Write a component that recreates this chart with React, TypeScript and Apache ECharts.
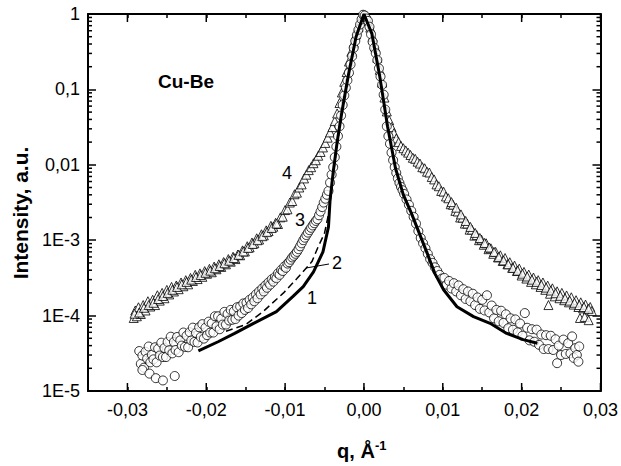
import React, { useEffect, useRef } from 'react';
import * as echarts from 'echarts';

// ---- axis ticks / labels ----
const xMajorTicks = [-0.03, -0.02, -0.01, 0, 0.01, 0.02, 0.03];
const yTickLabels = ['1E-5', '1E-4', '1E-3', '0,01', '0,1', '1'];
const yMinorMultipliers = [2, 3, 4, 5, 6, 7, 8, 9];
const yDecadeExponents = [-5, -4, -3, -2, -1];

// ---- series 4 : triangles ----
const trianglesLeft: [number, number][] = [
  [-0.0292, 9.3e-5], [-0.029, 1.17e-4], [-0.0288, 9.8e-5], [-0.0286, 1.29e-4], [-0.0283, 1.05e-4],
  [-0.028, 1.38e-4], [-0.0277, 1.17e-4], [-0.0274, 1.55e-4], [-0.0271, 1.32e-4], [-0.0268, 1.62e-4],
  [-0.0265, 1.38e-4], [-0.0262, 1.86e-4], [-0.0259, 1.58e-4], [-0.0256, 2.0e-4], [-0.0253, 1.7e-4],
  [-0.025, 2.19e-4], [-0.0247, 1.91e-4], [-0.0244, 2.4e-4], [-0.0241, 2.09e-4], [-0.0238, 2.51e-4],
  [-0.0235, 2.24e-4], [-0.0232, 2.75e-4], [-0.0229, 2.45e-4], [-0.0226, 2.95e-4], [-0.0223, 2.6e-4],
  [-0.022, 3.16e-4], [-0.0217, 2.88e-4], [-0.0214, 3.47e-4], [-0.0211, 3.05e-4], [-0.0208, 3.63e-4],
  [-0.0205, 3.27e-4], [-0.0202, 3.89e-4], [-0.0199, 3.59e-4], [-0.0196, 4.17e-4], [-0.0193, 3.76e-4],
  [-0.019, 4.47e-4], [-0.0187, 4.12e-4], [-0.0184, 4.79e-4], [-0.0181, 4.42e-4], [-0.0178, 5.13e-4],
  [-0.0175, 4.79e-4], [-0.0172, 5.62e-4], [-0.0169, 5.19e-4], [-0.0166, 6.03e-4], [-0.0163, 5.62e-4],
  [-0.016, 6.46e-4], [-0.0157, 6.31e-4], [-0.0154, 7.33e-4], [-0.0151, 7.08e-4], [-0.0148, 8.32e-4],
  [-0.0145, 8.04e-4], [-0.0142, 9.33e-4], [-0.0139, 9.12e-4], [-0.0136, 1.06e-3], [-0.0133, 1.02e-3],
  [-0.013, 1.2e-3], [-0.0127, 1.16e-3], [-0.0124, 1.35e-3], [-0.0121, 1.32e-3], [-0.0118, 1.55e-3],
  [-0.0115, 1.51e-3], [-0.0112, 1.7e-3], [-0.0109, 1.64e-3], [-0.0106, 2.01e-3], [-0.0103, 2.05e-3],
  [-0.01, 2.51e-3], [-0.0097, 2.57e-3], [-0.0094, 3.16e-3], [-0.0091, 3.31e-3], [-0.0088, 4.07e-3],
  [-0.0085, 4.27e-3], [-0.0082, 5.0e-3], [-0.0079, 5.5e-3], [-0.0076, 6.6e-3], [-0.0073, 7.4e-3],
  [-0.007, 8.5e-3], [-0.0067, 9.3e-3], [-0.0064, 1.05e-2], [-0.0061, 1.15e-2], [-0.0058, 1.32e-2],
  [-0.0055, 1.48e-2], [-0.0052, 1.7e-2],
];
const trianglesLeftExtra: [number, number][] = [
  [-0.0291, 1.06e-4], [-0.0285, 1.1e-4], [-0.0279, 1.27e-4], [-0.0273, 1.38e-4], [-0.0267, 1.48e-4],
  [-0.0261, 1.66e-4], [-0.0255, 1.82e-4], [-0.0249, 2.0e-4], [-0.0243, 2.2e-4], [-0.0237, 2.4e-4],
  [-0.0231, 2.6e-4], [-0.0225, 2.8e-4], [-0.0219, 3.0e-4], [-0.0213, 3.25e-4], [-0.0207, 3.45e-4],
  [-0.0201, 3.7e-4], [-0.0195, 3.95e-4], [-0.0189, 4.25e-4], [-0.0183, 4.55e-4], [-0.0177, 4.95e-4],
  [-0.0171, 5.35e-4], [-0.0165, 5.8e-4], [-0.0159, 6.4e-4], [-0.0153, 7.1e-4], [-0.0147, 7.9e-4],
  [-0.0141, 8.9e-4], [-0.0135, 1.0e-3], [-0.0129, 1.13e-3], [-0.0123, 1.28e-3], [-0.0117, 1.45e-3],
  [-0.0111, 1.66e-3],
];
const trianglesCenter: [number, number][] = [
  [-0.0049, 1.95e-2], [-0.0046, 2.29e-2], [-0.0043, 2.69e-2], [-0.004, 3.16e-2], [-0.0037, 3.8e-2],
  [-0.0034, 4.8e-2], [-0.0031, 6.6e-2], [-0.0028, 9.1e-2], [-0.0025, 0.126], [-0.0022, 0.17],
  [-0.0019, 0.234], [-0.0016, 0.316], [-0.0013, 0.417], [-0.001, 0.537], [-0.0007, 0.676],
  [-0.0004, 0.83], [-0.0001, 0.977], [0.0002, 0.933], [0.0005, 0.81], [0.0008, 0.66],
  [0.0011, 0.5], [0.0014, 0.37], [0.0017, 0.263], [0.002, 0.182], [0.0023, 0.123],
  [0.0026, 7.8e-2], [0.0029, 5.1e-2], [0.0032, 3.9e-2], [0.0035, 3.16e-2], [0.0038, 2.63e-2],
  [0.0041, 2.24e-2], [0.0044, 2.0e-2], [0.0047, 1.78e-2], [0.005, 1.66e-2],
];
const trianglesRight: [number, number][] = [
  [0.0053, 1.55e-2], [0.0056, 1.45e-2], [0.0059, 1.35e-2], [0.0062, 1.24e-2], [0.0065, 1.2e-2],
  [0.0068, 1.1e-2], [0.0071, 1.04e-2], [0.0074, 9.3e-3], [0.0077, 9.0e-3], [0.008, 8.1e-3],
  [0.0083, 7.9e-3], [0.0086, 6.9e-3], [0.0089, 6.4e-3], [0.0092, 5.5e-3], [0.0095, 5.2e-3],
  [0.0098, 4.5e-3], [0.0101, 4.4e-3], [0.0104, 3.8e-3], [0.0107, 3.6e-3], [0.011, 3.0e-3],
  [0.0113, 2.95e-3], [0.0116, 2.45e-3], [0.0119, 2.4e-3], [0.0122, 2.0e-3], [0.0125, 1.99e-3],
  [0.0128, 1.66e-3], [0.0131, 1.66e-3], [0.0134, 1.38e-3], [0.0137, 1.38e-3], [0.014, 1.15e-3],
  [0.0143, 1.17e-3], [0.0146, 1.0e-3], [0.0149, 1.02e-3], [0.0152, 8.7e-4], [0.0155, 9.1e-4],
  [0.0158, 7.6e-4], [0.0161, 7.8e-4], [0.0164, 6.6e-4], [0.0167, 7.0e-4], [0.017, 5.9e-4],
  [0.0173, 6.3e-4], [0.0176, 5.3e-4], [0.0179, 5.8e-4], [0.0182, 4.8e-4], [0.0185, 5.1e-4],
  [0.0188, 4.3e-4], [0.0191, 4.6e-4], [0.0194, 3.9e-4], [0.0197, 4.2e-4], [0.02, 3.4e-4],
  [0.0203, 3.8e-4], [0.0206, 3.1e-4], [0.0209, 3.5e-4], [0.0212, 2.8e-4], [0.0215, 3.2e-4],
  [0.0218, 2.6e-4], [0.0221, 2.95e-4], [0.0224, 2.4e-4], [0.0227, 2.75e-4], [0.023, 2.2e-4],
  [0.0233, 2.5e-4], [0.0236, 1.95e-4], [0.0239, 2.3e-4], [0.0242, 1.8e-4], [0.0245, 2.1e-4],
  [0.0248, 1.7e-4], [0.0251, 2.0e-4], [0.0254, 1.6e-4], [0.0257, 1.85e-4], [0.026, 1.5e-4],
  [0.0263, 1.75e-4], [0.0266, 1.4e-4], [0.0269, 1.6e-4], [0.0272, 1.3e-4], [0.0275, 1.5e-4],
  [0.0278, 1.25e-4], [0.0281, 1.4e-4], [0.0284, 1.2e-4], [0.0287, 1.3e-4], [0.0289, 1.15e-4],
  [0.0234, 1.38e-4], [0.0274, 9.3e-5], [0.028, 9.6e-5], [0.0285, 8.7e-5],
];
const trianglesRightExtra: [number, number][] = [
  [0.0111, 3.2e-3], [0.0117, 2.7e-3], [0.0123, 2.2e-3], [0.0129, 1.8e-3], [0.0135, 1.5e-3],
  [0.0141, 1.25e-3], [0.0147, 1.07e-3], [0.0153, 9.2e-4], [0.0159, 8.0e-4], [0.0165, 7.0e-4],
  [0.0171, 6.0e-4], [0.0177, 5.4e-4], [0.0183, 4.8e-4], [0.0189, 4.3e-4], [0.0195, 3.95e-4],
  [0.0201, 3.6e-4], [0.0207, 3.3e-4], [0.0213, 3.0e-4], [0.0219, 2.8e-4], [0.0225, 2.55e-4],
  [0.0231, 2.35e-4], [0.0237, 2.15e-4], [0.0243, 1.98e-4], [0.0249, 1.83e-4], [0.0255, 1.7e-4],
  [0.0261, 1.58e-4], [0.0267, 1.48e-4], [0.0273, 1.38e-4], [0.0279, 1.3e-4], [0.0285, 1.23e-4],
];

// ---- series 3 : circles ----
const circlesLeft: [number, number][] = [
  [-0.0285, 3.39e-5], [-0.0283, 2.29e-5], [-0.0281, 2.95e-5], [-0.0279, 2.04e-5], [-0.0277, 3.31e-5],
  [-0.0275, 2.69e-5], [-0.0273, 3.89e-5], [-0.0271, 2.4e-5], [-0.0269, 3.02e-5], [-0.0267, 2.63e-5],
  [-0.0265, 3.8e-5], [-0.0263, 2.4e-5], [-0.0261, 3.63e-5], [-0.0259, 2.95e-5], [-0.0257, 4.37e-5],
  [-0.0255, 2.82e-5], [-0.0253, 3.72e-5], [-0.0251, 2.82e-5], [-0.0249, 4.47e-5], [-0.0247, 3.47e-5],
  [-0.0245, 5.25e-5], [-0.0243, 3.16e-5], [-0.0241, 4.47e-5], [-0.0239, 3.5e-5], [-0.0237, 5.2e-5],
  [-0.0235, 3.27e-5], [-0.0233, 4.7e-5], [-0.0231, 4.0e-5], [-0.0229, 5.96e-5], [-0.0227, 3.85e-5],
  [-0.0225, 5.4e-5], [-0.0223, 3.8e-5], [-0.0221, 6.03e-5], [-0.0219, 4.68e-5], [-0.0217, 6.92e-5],
  [-0.0215, 4.47e-5], [-0.0213, 5.89e-5], [-0.0211, 4.4e-5], [-0.0209, 7.0e-5], [-0.0207, 5.2e-5],
  [-0.0205, 7.7e-5], [-0.0203, 4.95e-5], [-0.0201, 6.9e-5], [-0.0199, 5.5e-5], [-0.0197, 8.3e-5],
  [-0.0195, 5.96e-5], [-0.0193, 7.9e-5], [-0.0191, 5.96e-5], [-0.0189, 9.8e-5], [-0.0187, 7.2e-5],
  [-0.0185, 9.8e-5], [-0.0183, 6.6e-5], [-0.0181, 9.1e-5], [-0.0179, 7.6e-5], [-0.0177, 1.12e-4],
  [-0.0175, 7.6e-5], [-0.0173, 1.05e-4], [-0.0171, 8.6e-5], [-0.0169, 1.19e-4], [-0.0167, 8.8e-5],
  [-0.0165, 1.14e-4], [-0.0163, 9.0e-5], [-0.0161, 1.29e-4], [-0.0159, 1.0e-4], [-0.0157, 1.32e-4],
  [-0.0155, 1.08e-4], [-0.0153, 1.45e-4], [-0.0151, 1.19e-4], [-0.0149, 1.48e-4], [-0.0147, 1.26e-4],
  [-0.0145, 1.62e-4], [-0.0143, 1.41e-4], [-0.0141, 1.74e-4], [-0.0139, 1.55e-4], [-0.0137, 1.91e-4],
  [-0.0135, 1.7e-4], [-0.0133, 2.09e-4], [-0.0131, 1.91e-4], [-0.0129, 2.29e-4], [-0.0127, 2.09e-4],
  [-0.0125, 2.51e-4], [-0.0123, 2.34e-4], [-0.0121, 2.75e-4], [-0.0119, 2.57e-4], [-0.0117, 3.02e-4],
  [-0.0115, 2.82e-4], [-0.0113, 3.24e-4], [-0.0111, 3.13e-4], [-0.0109, 3.63e-4], [-0.0107, 3.47e-4],
  [-0.0105, 4.03e-4], [-0.0103, 3.89e-4], [-0.0101, 4.47e-4], [-0.0099, 4.3e-4], [-0.0097, 4.9e-4],
  [-0.0095, 5.1e-4], [-0.0093, 5.5e-4], [-0.0091, 5.9e-4], [-0.0089, 6.2e-4], [-0.0087, 6.6e-4],
  [-0.0085, 7.0e-4], [-0.0083, 7.6e-4], [-0.0081, 8.3e-4], [-0.0079, 9.1e-4], [-0.0077, 1.0e-3],
  [-0.0075, 1.08e-3], [-0.0073, 1.17e-3], [-0.0071, 1.26e-3], [-0.0069, 1.36e-3], [-0.0067, 1.46e-3],
  [-0.0065, 1.57e-3], [-0.0063, 1.68e-3], [-0.0061, 1.8e-3], [-0.0059, 1.9e-3], [-0.0057, 2.14e-3],
  [-0.0055, 2.4e-3], [-0.0053, 2.75e-3], [-0.0051, 3.16e-3],
];
const circlesCenter: [number, number][] = [
  [-0.0049, 3.55e-3], [-0.0047, 4.0e-3], [-0.0045, 4.5e-3], [-0.0043, 5.8e-3], [-0.0041, 7.4e-3],
  [-0.0039, 9.3e-3], [-0.0037, 1.26e-2], [-0.0035, 1.74e-2], [-0.0033, 2.4e-2], [-0.0031, 3.24e-2],
  [-0.0029, 4.5e-2], [-0.0027, 6.2e-2], [-0.0025, 8.3e-2], [-0.0023, 0.105], [-0.0021, 0.132],
  [-0.0019, 0.166], [-0.0017, 0.214], [-0.0015, 0.275], [-0.0013, 0.355], [-0.0011, 0.437],
  [-0.0009, 0.525], [-0.0007, 0.617], [-0.0005, 0.724], [-0.0003, 0.85], [-0.0001, 0.977],
  [0.0001, 0.955], [0.0003, 0.87], [0.0005, 0.81], [0.0007, 0.676], [0.0009, 0.537],
  [0.0011, 0.427], [0.0013, 0.355], [0.0015, 0.302], [0.0017, 0.245], [0.0019, 0.19],
  [0.0021, 0.148], [0.0023, 0.115], [0.0025, 8.5e-2], [0.0027, 5.4e-2], [0.0029, 3.24e-2],
  [0.0031, 2.4e-2], [0.0033, 1.9e-2], [0.0035, 1.45e-2], [0.0037, 1.15e-2], [0.0039, 9.3e-3],
  [0.0041, 7.8e-3], [0.0043, 6.6e-3], [0.0045, 5.75e-3], [0.0047, 5.1e-3], [0.0049, 4.6e-3],
];
const circlesRight: [number, number][] = [
  [0.0051, 4.1e-3], [0.0054, 3.47e-3], [0.0057, 2.95e-3], [0.006, 2.45e-3], [0.0063, 2.04e-3],
  [0.0066, 1.66e-3], [0.0069, 1.32e-3], [0.0072, 1.07e-3], [0.0075, 9.1e-4], [0.0078, 7.8e-4],
  [0.0081, 6.6e-4], [0.0084, 5.6e-4], [0.0087, 5.0e-4], [0.009, 4.37e-4], [0.0093, 3.9e-4],
  [0.0096, 3.47e-4], [0.0099, 3.1e-4], [0.0102, 3.16e-4], [0.0105, 2.57e-4], [0.0108, 2.88e-4],
  [0.0111, 2.29e-4], [0.0114, 2.69e-4], [0.0117, 2.09e-4], [0.012, 2.51e-4], [0.0123, 1.86e-4],
  [0.0126, 2.24e-4], [0.0129, 1.66e-4], [0.0132, 2.09e-4], [0.0135, 1.55e-4], [0.0138, 1.95e-4],
  [0.0141, 1.38e-4], [0.0144, 1.74e-4], [0.0147, 1.23e-4], [0.015, 1.62e-4], [0.0153, 1.17e-4],
  [0.0156, 1.86e-4], [0.0159, 1.1e-4], [0.0162, 1.36e-4], [0.0165, 9.2e-5], [0.0168, 1.19e-4],
  [0.0171, 8.4e-5], [0.0174, 1.16e-4], [0.0177, 8.0e-5], [0.018, 1.04e-4], [0.0183, 6.8e-5],
  [0.0186, 9.2e-5], [0.0189, 6.5e-5], [0.0192, 8.9e-5], [0.0195, 6.0e-5], [0.0198, 7.85e-5],
  [0.0201, 5.4e-5], [0.0204, 1.08e-4], [0.0207, 6.9e-5], [0.021, 4.7e-5], [0.0213, 6.6e-5],
  [0.0216, 4.5e-5], [0.0219, 6.5e-5], [0.0222, 4.1e-5], [0.0225, 5.6e-5], [0.0228, 3.6e-5],
  [0.0231, 5.5e-5], [0.0234, 3.6e-5], [0.0237, 5.4e-5], [0.024, 3.5e-5], [0.0243, 4.85e-5],
  [0.0245, 2.34e-5], [0.0247, 4.0e-5], [0.025, 3.0e-5], [0.0253, 4.8e-5], [0.0256, 3.1e-5],
  [0.0259, 4.3e-5], [0.0262, 3.16e-5], [0.0264, 5.3e-5], [0.0266, 2.75e-5], [0.0268, 3.7e-5],
  [0.027, 3.0e-5], [0.0272, 2.45e-5], [0.0273, 3.9e-5],
];
const circlesOutliers: [number, number][] = [
  [-0.0281, 1.9e-5], [-0.0272, 1.7e-5], [-0.0264, 1.48e-5], [-0.0255, 1.38e-5], [-0.024, 1.58e-5],
];

// ---- series 1 (solid) and 2 (dashed) ----
const curve1: [number, number][] = [
  [-0.021, 3.4e-5], [-0.0185, 4.5e-5], [-0.0164, 5.8e-5], [-0.014, 7.9e-5], [-0.0111, 1.13e-4],
  [-0.009, 1.8e-4], [-0.0077, 2.42e-4], [-0.0064, 3.8e-4], [-0.0052, 7.0e-4], [-0.0045, 1.5e-3],
  [-0.0043, 3.4e-3], [-0.0039, 8e-3], [-0.0034, 2.0e-2], [-0.0028, 5.0e-2], [-0.002, 0.15],
  [-0.001, 0.5], [0, 1], [0.001, 0.55], [0.002, 0.15], [0.003, 0.032], [0.004, 9e-3],
  [0.005, 4.0e-3], [0.006, 2.3e-3], [0.007, 1.25e-3], [0.008, 6.8e-4], [0.009, 3.6e-4],
  [0.0101, 2.2e-4], [0.0118, 1.31e-4], [0.0139, 9.7e-5], [0.016, 7.9e-5], [0.0181, 5.8e-5],
  [0.0202, 4.8e-5], [0.022, 4.3e-5],
];
const curve2: [number, number][] = [
  [-0.0175, 6.2e-5], [-0.015, 7.6e-5], [-0.0128, 1.13e-4], [-0.0102, 2.0e-4], [-0.0085, 3.1e-4],
  [-0.0066, 5.2e-4], [-0.0058, 8.2e-4], [-0.005, 1.24e-3], [-0.0045, 2.2e-3], [-0.0041, 4.5e-3],
  [-0.0036, 1.3e-2], [-0.003, 3.5e-2], [-0.002, 0.15], [-0.001, 0.5], [0, 1],
];

const FONT = '"Liberation Sans", Arial, Helvetica, sans-serif';
const X_MIN = -0.035;
const X_MAX = 0.03;

function fmtX(v: number): string {
  const k = Math.round(v * 200);
  if (k % 2 !== 0) return '';
  if (Math.abs(v) < 1e-9) return '0,00';
  return v.toFixed(2).replace('.', ',');
}
function fmtY(v: number): string {
  const e = Math.round(Math.log10(v));
  return yTickLabels[e + 5] ?? '';
}

export default function App() {
  const ref = useRef<HTMLDivElement>(null);
  useEffect(() => {
    if (!ref.current) return;
    const chart = echarts.init(ref.current, undefined, { renderer: 'svg' });

    const yMinorTicks: number[][] = [];
    yDecadeExponents.forEach((e) => {
      yMinorMultipliers.forEach((m) => yMinorTicks.push([X_MIN, m * Math.pow(10, e)]));
    });

    const tickStyle = { stroke: '#000', lineWidth: 1.5 };
    const baseX = {
      type: 'value' as const,
      min: X_MIN,
      max: X_MAX,
      interval: 0.005,
      axisLine: { onZero: false, lineStyle: { color: '#000', width: 2 } },
      axisTick: { inside: true, length: 4, lineStyle: { color: '#000', width: 1.5 } },
      splitLine: { show: false },
      minorTick: { show: false },
    };
    const baseY = {
      type: 'log' as const,
      logBase: 10,
      min: 1e-5,
      max: 1,
      axisLine: { onZero: false, lineStyle: { color: '#000', width: 2 } },
      axisTick: { inside: true, length: 8, lineStyle: { color: '#000', width: 1.5 } },
      splitLine: { show: false },
      minorTick: { show: false },
    };
    const markerStyle = { color: '#fff', borderColor: '#000', borderWidth: 1 };

    const option: any = {
      animation: false,
      backgroundColor: '#fff',
      grid: { left: 88, right: 20, top: 14, bottom: 75, containLabel: false },
      xAxis: [
        {
          ...baseX,
          position: 'bottom',
          axisLabel: { formatter: fmtX, color: '#000', fontSize: 18, fontFamily: FONT, margin: 10 },
        },
        { ...baseX, position: 'top', axisLabel: { show: false } },
      ],
      yAxis: [
        {
          ...baseY,
          position: 'left',
          axisLabel: { formatter: fmtY, color: '#000', fontSize: 18, fontFamily: FONT, margin: 8 },
        },
        { ...baseY, position: 'right', axisLabel: { show: false } },
      ],
      series: [
        {
          name: '4',
          type: 'scatter',
          symbol: 'triangle',
          symbolSize: 9,
          itemStyle: markerStyle,
          data: [...trianglesLeft, ...trianglesLeftExtra, ...trianglesCenter, ...trianglesRight, ...trianglesRightExtra],
          z: 2,
        },
        {
          name: '3',
          type: 'scatter',
          symbol: 'circle',
          symbolSize: 9,
          itemStyle: markerStyle,
          data: [...circlesLeft, ...circlesCenter, ...circlesRight, ...circlesOutliers],
          z: 3,
        },
        {
          name: '1',
          type: 'line',
          data: curve1,
          symbol: 'none',
          lineStyle: { color: '#000', width: 3 },
          z: 4,
        },
        {
          name: '2',
          type: 'line',
          data: curve2,
          symbol: 'none',
          lineStyle: { color: '#000', width: 1.5, type: [7, 4] },
          z: 4,
        },
        {
          name: 'xMajorTicks',
          type: 'custom',
          silent: true,
          clip: false,
          z: 5,
          data: xMajorTicks.map((v) => [v, 1]),
          renderItem: (params: any, api: any) => {
            const cs = params.coordSys;
            const p = api.coord([api.value(0), 1]);
            const x = p[0];
            const b = cs.y + cs.height;
            return {
              type: 'group',
              children: [
                { type: 'line', shape: { x1: x, y1: b, x2: x, y2: b - 8 }, style: tickStyle },
                { type: 'line', shape: { x1: x, y1: cs.y, x2: x, y2: cs.y + 8 }, style: tickStyle },
              ],
            };
          },
        },
        {
          name: 'yMinorTicks',
          type: 'custom',
          silent: true,
          clip: false,
          z: 5,
          data: yMinorTicks,
          renderItem: (params: any, api: any) => {
            const cs = params.coordSys;
            const p = api.coord([X_MIN, api.value(1)]);
            const y = p[1];
            const r = cs.x + cs.width;
            return {
              type: 'group',
              children: [
                { type: 'line', shape: { x1: cs.x, y1: y, x2: cs.x + 4, y2: y }, style: tickStyle },
                { type: 'line', shape: { x1: r, y1: y, x2: r - 4, y2: y }, style: tickStyle },
              ],
            };
          },
        },
      ],
      graphic: [
        {
          type: 'text', x: 186, y: 81,
          style: { text: 'Cu-Be', font: `bold 19px ${FONT}`, fill: '#000', align: 'center', verticalAlign: 'middle' },
        },
        {
          type: 'text', x: 20, y: 213, rotation: Math.PI / 2,
          style: { text: 'Intensity, a.u.', font: `bold 21px ${FONT}`, fill: '#000', align: 'center', verticalAlign: 'middle' },
        },
        {
          type: 'text', x: 356, y: 451,
          style: { text: 'q, Å', font: `bold 20px ${FONT}`, fill: '#000', align: 'center', verticalAlign: 'middle' },
        },
        {
          type: 'text', x: 375, y: 445,
          style: { text: '-1', font: `bold 13px ${FONT}`, fill: '#000', align: 'left', verticalAlign: 'middle' },
        },
        { type: 'text', x: 287, y: 173, style: { text: '4', font: `18px ${FONT}`, fill: '#000', align: 'center', verticalAlign: 'middle' } },
        { type: 'text', x: 300, y: 220, style: { text: '3', font: `18px ${FONT}`, fill: '#000', align: 'center', verticalAlign: 'middle' } },
        { type: 'text', x: 337, y: 263, style: { text: '2', font: `18px ${FONT}`, fill: '#000', align: 'center', verticalAlign: 'middle' } },
        { type: 'text', x: 312, y: 298, style: { text: '1', font: `18px ${FONT}`, fill: '#000', align: 'center', verticalAlign: 'middle' } },
        { type: 'line', shape: { x1: 306, y1: 268, x2: 329, y2: 264 }, style: { stroke: '#000', lineWidth: 1 } },
      ],
    };
    chart.setOption(option);
    return () => chart.dispose();
  }, []);

  return (
    <div
      ref={ref}
      style={{ position: 'fixed', left: 0, top: 0, width: 621, height: 466, background: '#fff' }}
    />
  );
}
